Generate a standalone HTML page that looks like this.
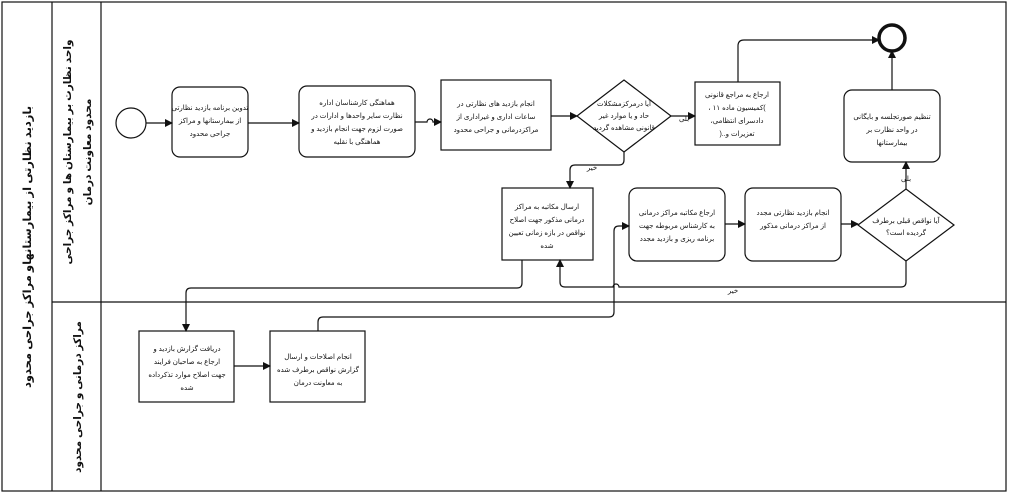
<!DOCTYPE html>
<html><head><meta charset="utf-8"><style>
html,body{margin:0;padding:0;background:#fff;}
svg{display:block;}
text{font-family:"Liberation Sans","DejaVu Sans",sans-serif;font-size:7px;fill:#111;}
.lab{font-size:11.5px;font-weight:bold;}
.lab2{font-size:10.5px;font-weight:bold;}
</style></head><body>
<svg width="1009" height="494" viewBox="0 0 1009 494" xmlns="http://www.w3.org/2000/svg">
<defs><marker id="a" markerWidth="8" markerHeight="8" refX="7" refY="4" orient="auto" markerUnits="userSpaceOnUse"><path d="M0,0 L8,4 L0,8 z" fill="#111"/></marker></defs>
<g fill="none" stroke="#111" stroke-width="1.2">
<rect x="2" y="2" width="1004" height="489"/>
<line x1="52" y1="2" x2="52" y2="491"/>
<line x1="101" y1="2" x2="101" y2="491"/>
<line x1="52" y1="302" x2="1006" y2="302"/>
<circle cx="131" cy="123" r="15"/>
<rect x="172" y="87" width="76" height="70" rx="8"/>
<rect x="299" y="86" width="116" height="71" rx="8"/>
<rect x="441" y="80" width="110" height="70"/>
<polygon points="577,116 624,80 671,116 624,152"/>
<rect x="695" y="82" width="85" height="63"/>
<circle cx="892" cy="38" r="13" stroke-width="3.5"/>
<rect x="844" y="90" width="96" height="72" rx="8"/>
<polygon points="858,225 906,189 954,225 906,261"/>
<rect x="745" y="188" width="96" height="73" rx="8"/>
<rect x="629" y="188" width="96" height="73" rx="8"/>
<rect x="502" y="188" width="91" height="72"/>
<rect x="139" y="331" width="95" height="71"/>
<rect x="270" y="331" width="95" height="71"/>
<line x1="146" y1="123" x2="172" y2="123" marker-end="url(#a)"/>
<line x1="248" y1="123" x2="299" y2="123" marker-end="url(#a)"/>
<path d="M415,122 H427 a3,3 0 0 1 6,0 H441" marker-end="url(#a)"/>
<line x1="551" y1="116" x2="577" y2="116" marker-end="url(#a)"/>
<line x1="671" y1="116" x2="695" y2="116" marker-end="url(#a)"/>
<path d="M738,82 V46 q0,-6 6,-6 H879" marker-end="url(#a)"/>
<line x1="892" y1="90" x2="892" y2="51" marker-end="url(#a)"/>
<line x1="906" y1="189" x2="906" y2="162" marker-end="url(#a)"/>
<line x1="841" y1="224" x2="858" y2="224" marker-end="url(#a)"/>
<line x1="725" y1="224" x2="745" y2="224" marker-end="url(#a)"/>
<path d="M624,152 V160 q0,5 -5,5 H575 q-5,0 -5,5 V188" marker-end="url(#a)"/>
<path d="M906,261 V282 q0,5 -5,5 H619 a3,3 0 0 0 -6,0 H565 q-5,0 -5,-5 V260" marker-end="url(#a)"/>
<path d="M522,260 V283 q0,5 -5,5 H191 q-5,0 -5,5 V331" marker-end="url(#a)"/>
<line x1="234" y1="366" x2="270" y2="366" marker-end="url(#a)"/>
<path d="M318,331 V322 q0,-5 5,-5 H609 q5,0 5,-5 V231 q0,-5 5,-5 H629" marker-end="url(#a)"/>
</g>
<g text-anchor="middle" direction="rtl">
<text class="lab" transform="translate(31,247) rotate(-90)">بازدید نظارتی از بیمارستانهاو مراکز جراحی محدود</text>
<text class="lab2" transform="translate(71,152) rotate(-90)">واحد نظارت بر بیمارستان ها و مراکز جراحی</text>
<text class="lab2" transform="translate(91,152) rotate(-90)">محدود معاونت درمان</text>
<text class="lab2" transform="translate(81,397) rotate(-90)">مراکز درمانی و جراحی محدود</text>
<text x="210" y="110">تدوین برنامه بازدید نظارتی</text>
<text x="210" y="123">از بیمارستانها و مراکز</text>
<text x="210" y="136">جراحی محدود</text>
<text x="357" y="105">هماهنگی کارشناسان اداره</text>
<text x="357" y="118">نظارت سایر واحدها و ادارات در</text>
<text x="357" y="131">صورت لزوم جهت انجام بازدید و</text>
<text x="357" y="144">هماهنگی با نقلیه</text>
<text x="496" y="106">انجام بازدید های نظارتی در</text>
<text x="496" y="119">ساعات اداری و غیراداری از</text>
<text x="496" y="132">مراکزدرمانی و جراحی محدود</text>
<text x="624" y="106">آیا درمرکزمشکلات</text>
<text x="624" y="118">حاد و یا موارد غیر</text>
<text x="624" y="130">قانونی مشاهده گردید</text>
<text x="684" y="121">بلی</text>
<text x="737" y="97">ارجاع به مراجع قانونی</text>
<text x="737" y="110">)کمیسیون ماده ۱۱ ،</text>
<text x="737" y="123">دادسرای انتظامی،</text>
<text x="737" y="136">تعزیرات و..(</text>
<text x="892" y="119">تنظیم صورتجلسه و بایگانی</text>
<text x="892" y="132">در واحد نظارت بر</text>
<text x="892" y="145">بیمارستانها</text>
<text x="906" y="181">بلی</text>
<text x="906" y="223">آیا نواقص قبلی برطرف</text>
<text x="906" y="235">گردیده است؟</text>
<text x="793" y="215">انجام بازدید نظارتی مجدد</text>
<text x="793" y="228">از مراکز درمانی مذکور</text>
<text x="677" y="215">ارجاع مکاتبه مراکز درمانی</text>
<text x="677" y="228">به کارشناس مربوطه جهت</text>
<text x="677" y="241">برنامه ریزی و بازدید مجدد</text>
<text x="547" y="209">ارسال مکاتبه به مراکز</text>
<text x="547" y="222">درمانی مذکور جهت اصلاح</text>
<text x="547" y="235">نواقص در بازه زمانی تعیین</text>
<text x="547" y="248">شده</text>
<text x="592" y="170">خیر</text>
<text x="733" y="293">خیر</text>
<text x="187" y="351">دریافت گزارش بازدید و</text>
<text x="187" y="364">ارجاع به صاحبان فرایند</text>
<text x="187" y="377">جهت اصلاح موارد تذکرداده</text>
<text x="187" y="390">شده</text>
<text x="318" y="359">انجام اصلاحات و ارسال</text>
<text x="318" y="372">گزارش نواقص برطرف شده</text>
<text x="318" y="385">به معاونت درمان</text>
</g>
</svg>
</body></html>
